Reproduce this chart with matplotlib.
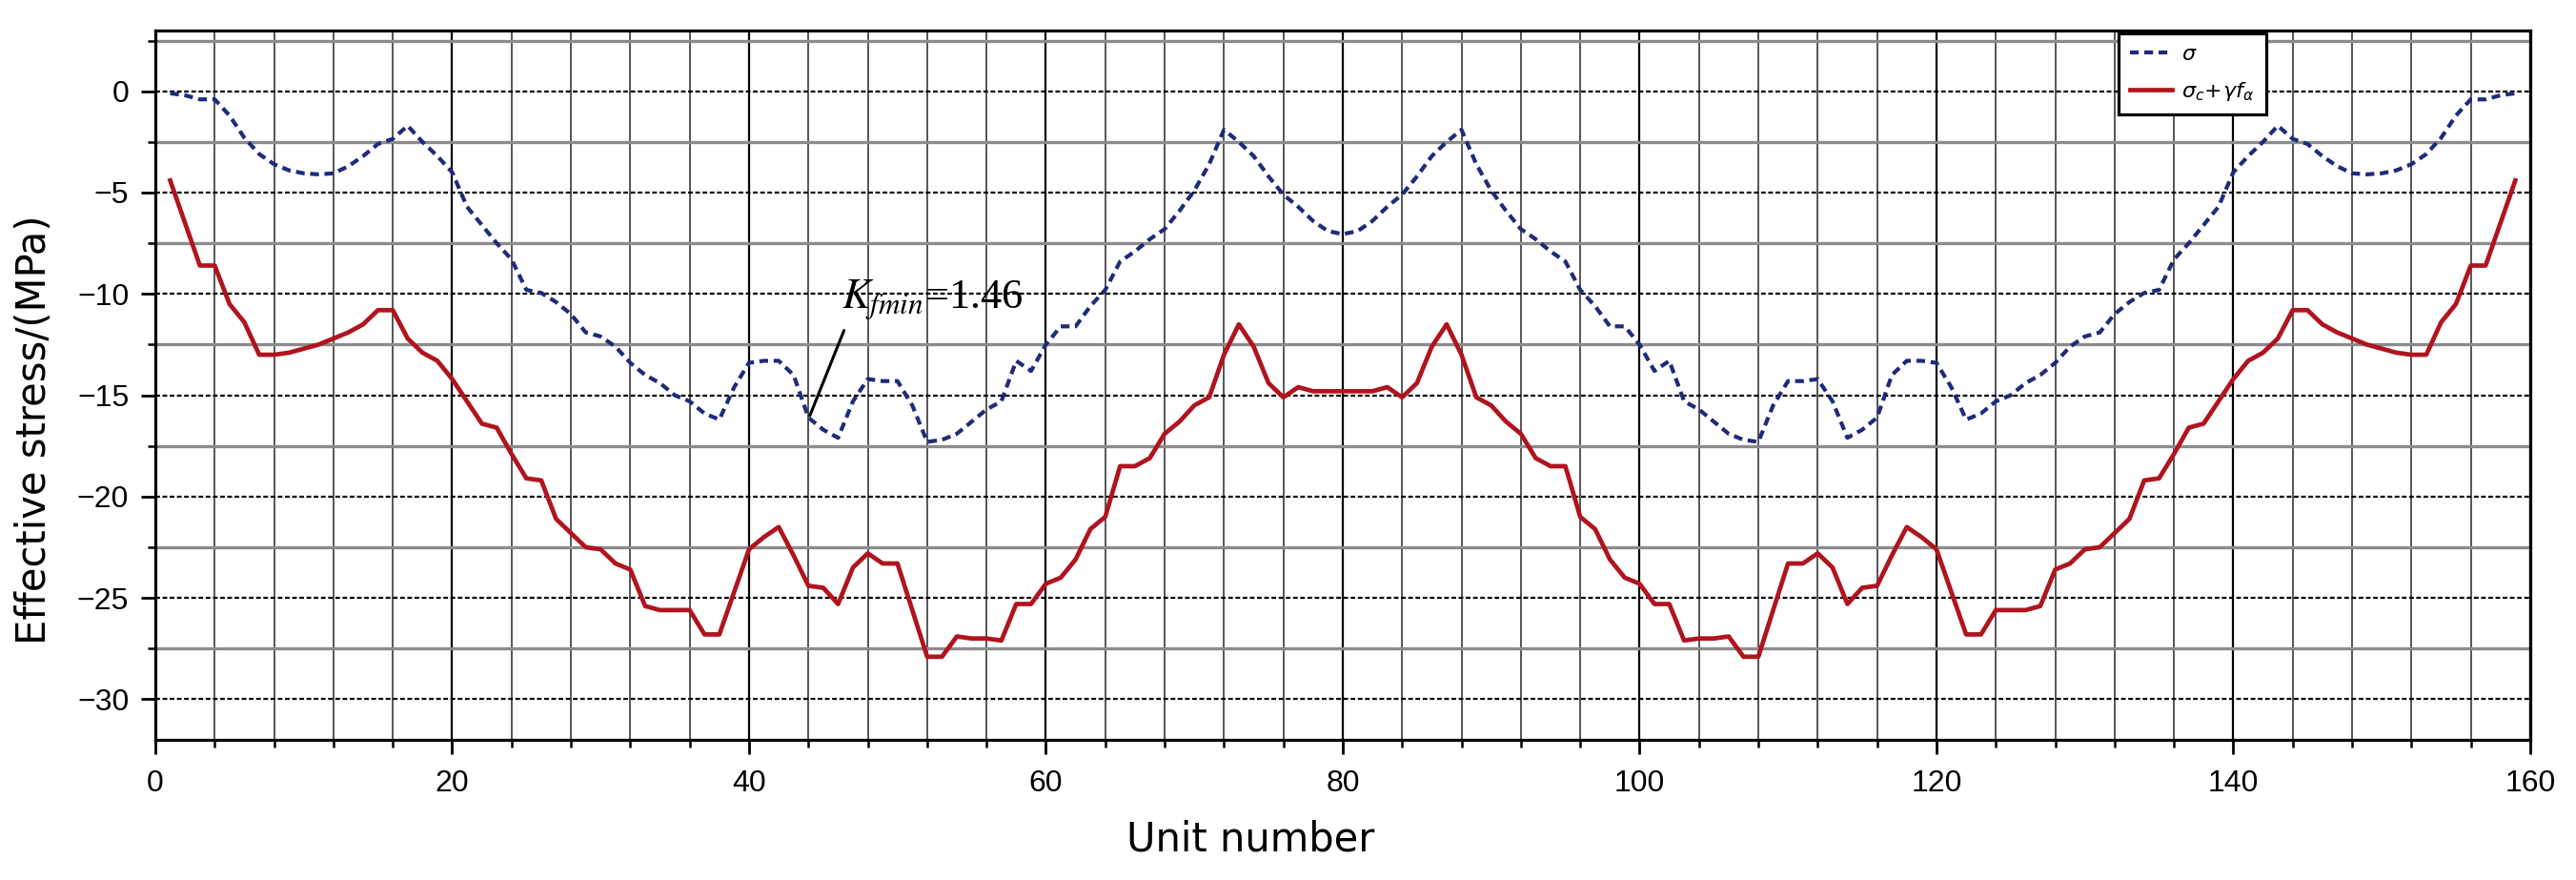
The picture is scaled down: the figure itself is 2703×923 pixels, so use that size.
import numpy as np
import matplotlib
matplotlib.use("Agg")
import matplotlib.pyplot as plt
from matplotlib.ticker import MultipleLocator

# ---------------- data ----------------
unit = list(range(1, 160))

sigma = [
    -0.1, -0.2, -0.4, -0.4, -1.2, -2.3, -3.1, -3.6, -3.9, -4.05,
    -4.1, -4.05, -3.7, -3.2, -2.6, -2.35, -1.7, -2.5, -3.2, -4.0,
    -5.7, -6.6, -7.5, -8.3, -9.8, -9.95, -10.4, -11.0, -11.9, -12.1,
    -12.6, -13.4, -14.0, -14.4, -15.0, -15.3, -15.9, -16.2, -14.6, -13.4,
    -13.3, -13.3, -14.0, -16.1, -16.7, -17.1, -15.3, -14.2, -14.3, -14.3,
    -15.5, -17.3, -17.2, -16.9, -16.3, -15.7, -15.3, -13.3, -13.8, -12.5,
    -11.6, -11.6, -10.6, -9.8, -8.4, -7.9, -7.3, -6.8, -5.9, -4.9,
    -3.6, -1.9, -2.5, -3.2, -4.2, -5.1, -5.7, -6.4, -6.9, -7.05,
    -6.9, -6.4, -5.7, -5.1, -4.2, -3.2, -2.5, -1.9, -3.6, -4.9,
    -5.9, -6.8, -7.3, -7.9, -8.4, -9.8, -10.6, -11.6, -11.6, -12.5,
    -13.8, -13.3, -15.3, -15.7, -16.3, -16.9, -17.2, -17.3, -15.5, -14.3,
    -14.3, -14.2, -15.3, -17.1, -16.7, -16.1, -14.0, -13.3, -13.3, -13.4,
    -14.6, -16.2, -15.9, -15.3, -15.0, -14.4, -14.0, -13.4, -12.6, -12.1,
    -11.9, -11.0, -10.4, -9.95, -9.8, -8.3, -7.5, -6.6, -5.7, -4.0,
    -3.2, -2.5, -1.7, -2.35, -2.6, -3.2, -3.7, -4.05, -4.1, -4.05,
    -3.9, -3.6, -3.1, -2.3, -1.2, -0.4, -0.4, -0.2, -0.1,
]

sigma_c_gamma = [
    -4.4, -6.5, -8.6, -8.6, -10.5, -11.4, -13.0, -13.0, -12.9, -12.7,
    -12.5, -12.2, -11.9, -11.5, -10.8, -10.8, -12.2, -12.9, -13.3, -14.2,
    -15.3, -16.4, -16.6, -17.9, -19.1, -19.2, -21.1, -21.8, -22.5, -22.6,
    -23.3, -23.6, -25.4, -25.6, -25.6, -25.6, -26.8, -26.8, -24.7, -22.6,
    -22.0, -21.5, -22.9, -24.4, -24.5, -25.3, -23.5, -22.8, -23.3, -23.3,
    -25.6, -27.9, -27.9, -26.9, -27.0, -27.0, -27.1, -25.3, -25.3, -24.3,
    -24.0, -23.1, -21.6, -21.0, -18.5, -18.5, -18.1, -16.9, -16.3, -15.5,
    -15.1, -13.0, -11.5, -12.6, -14.4, -15.1, -14.6, -14.8, -14.8, -14.8,
    -14.8, -14.8, -14.6, -15.1, -14.4, -12.6, -11.5, -13.0, -15.1, -15.5,
    -16.3, -16.9, -18.1, -18.5, -18.5, -21.0, -21.6, -23.1, -24.0, -24.3,
    -25.3, -25.3, -27.1, -27.0, -27.0, -26.9, -27.9, -27.9, -25.6, -23.3,
    -23.3, -22.8, -23.5, -25.3, -24.5, -24.4, -22.9, -21.5, -22.0, -22.6,
    -24.7, -26.8, -26.8, -25.6, -25.6, -25.6, -25.4, -23.6, -23.3, -22.6,
    -22.5, -21.8, -21.1, -19.2, -19.1, -17.9, -16.6, -16.4, -15.3, -14.2,
    -13.3, -12.9, -12.2, -10.8, -10.8, -11.5, -11.9, -12.2, -12.5, -12.7,
    -12.9, -13.0, -13.0, -11.4, -10.5, -8.6, -8.6, -6.5, -4.4,
]

x_ticks = [0, 20, 40, 60, 80, 100, 120, 140, 160]
y_ticks = [0, -5, -10, -15, -20, -25, -30]

legend_labels = [r"$\sigma$", r"$\sigma_c\!+\!\gamma f_\alpha$"]
annot_text = r"$K_{fmin}$=1.46"
annot_point = (44.1, -16.0)
annot_line_start = (46.4, -11.8)
annot_text_pos = (46.2, -10.7)

# ---------------- figure ----------------
tick_font = ["Liberation Sans", "DejaVu Sans"]

fig = plt.figure(figsize=(27.03, 9.23), dpi=100)
ax = fig.add_axes([0.0603, 0.1593, 0.9219, 0.8061])

ax.set_xlim(0, 160)
ax.set_ylim(-32, 3)

ax.xaxis.set_major_locator(MultipleLocator(20))
ax.xaxis.set_minor_locator(MultipleLocator(4))
ax.yaxis.set_major_locator(MultipleLocator(5))
ax.yaxis.set_minor_locator(MultipleLocator(2.5))
ax.set_xticks(x_ticks)
ax.set_yticks(y_ticks)

ax.set_axisbelow(True)
ax.grid(which="major", axis="x", color="black", linewidth=1.6, linestyle="-")
ax.grid(which="minor", axis="x", color="#555555", linewidth=1.4, linestyle="-")
ax.grid(which="major", axis="y", color="black", linewidth=1.6, linestyle=(0, (2.2, 1.2)))
ax.grid(which="minor", axis="y", color="#8c8c8c", linewidth=2.4, linestyle="-")

ax.tick_params(which="major", direction="out", length=11, width=2.0, pad=9,
               labelsize=23, colors="black")
ax.tick_params(which="minor", direction="out", length=5.5, width=1.8)
ax.tick_params(axis="x", which="major", pad=11)
for lab in ax.get_xticklabels() + ax.get_yticklabels():
    lab.set_family(tick_font)

for sp in ax.spines.values():
    sp.set_linewidth(2.3)
    sp.set_color("black")

l1, = ax.plot(unit, sigma, color="#1f2a7a", linewidth=3.0,
              linestyle=(0, (2.2, 1.4)), label=legend_labels[0], zorder=3)
l2, = ax.plot(unit, sigma_c_gamma, color="#b0141e", linewidth=3.4,
              linestyle="-", label=legend_labels[1], zorder=3)

leg = ax.legend(handles=[l1, l2], loc="upper left", bbox_to_anchor=(0.8266, 0.996),
                fontsize=16, frameon=True, fancybox=False, framealpha=1,
                edgecolor="black", handlelength=2.0, handletextpad=0.45,
                borderpad=0.55, labelspacing=0.75, borderaxespad=0)
leg.get_frame().set_linewidth(2.3)

ax.annotate("", xy=annot_point, xytext=annot_line_start,
            arrowprops=dict(arrowstyle="-", color="black", lw=2.2,
                            shrinkA=0, shrinkB=0))
ax.text(annot_text_pos[0], annot_text_pos[1], annot_text, fontsize=32,
        family=["Liberation Serif", "DejaVu Serif"], math_fontfamily="stix",
        ha="left", va="baseline", color="black", zorder=5)

ax.set_xlabel("Unit number", fontsize=30, family="DejaVu Sans")
ax.set_ylabel("Effective stress/(MPa)", fontsize=30, family="DejaVu Sans")
ax.xaxis.set_label_coords(0.461, -0.14)
ax.xaxis.label.set_va("center")
ax.yaxis.set_label_coords(-0.051, 0.437)
ax.yaxis.label.set_va("center")

fig.savefig("out.png", dpi=100)
